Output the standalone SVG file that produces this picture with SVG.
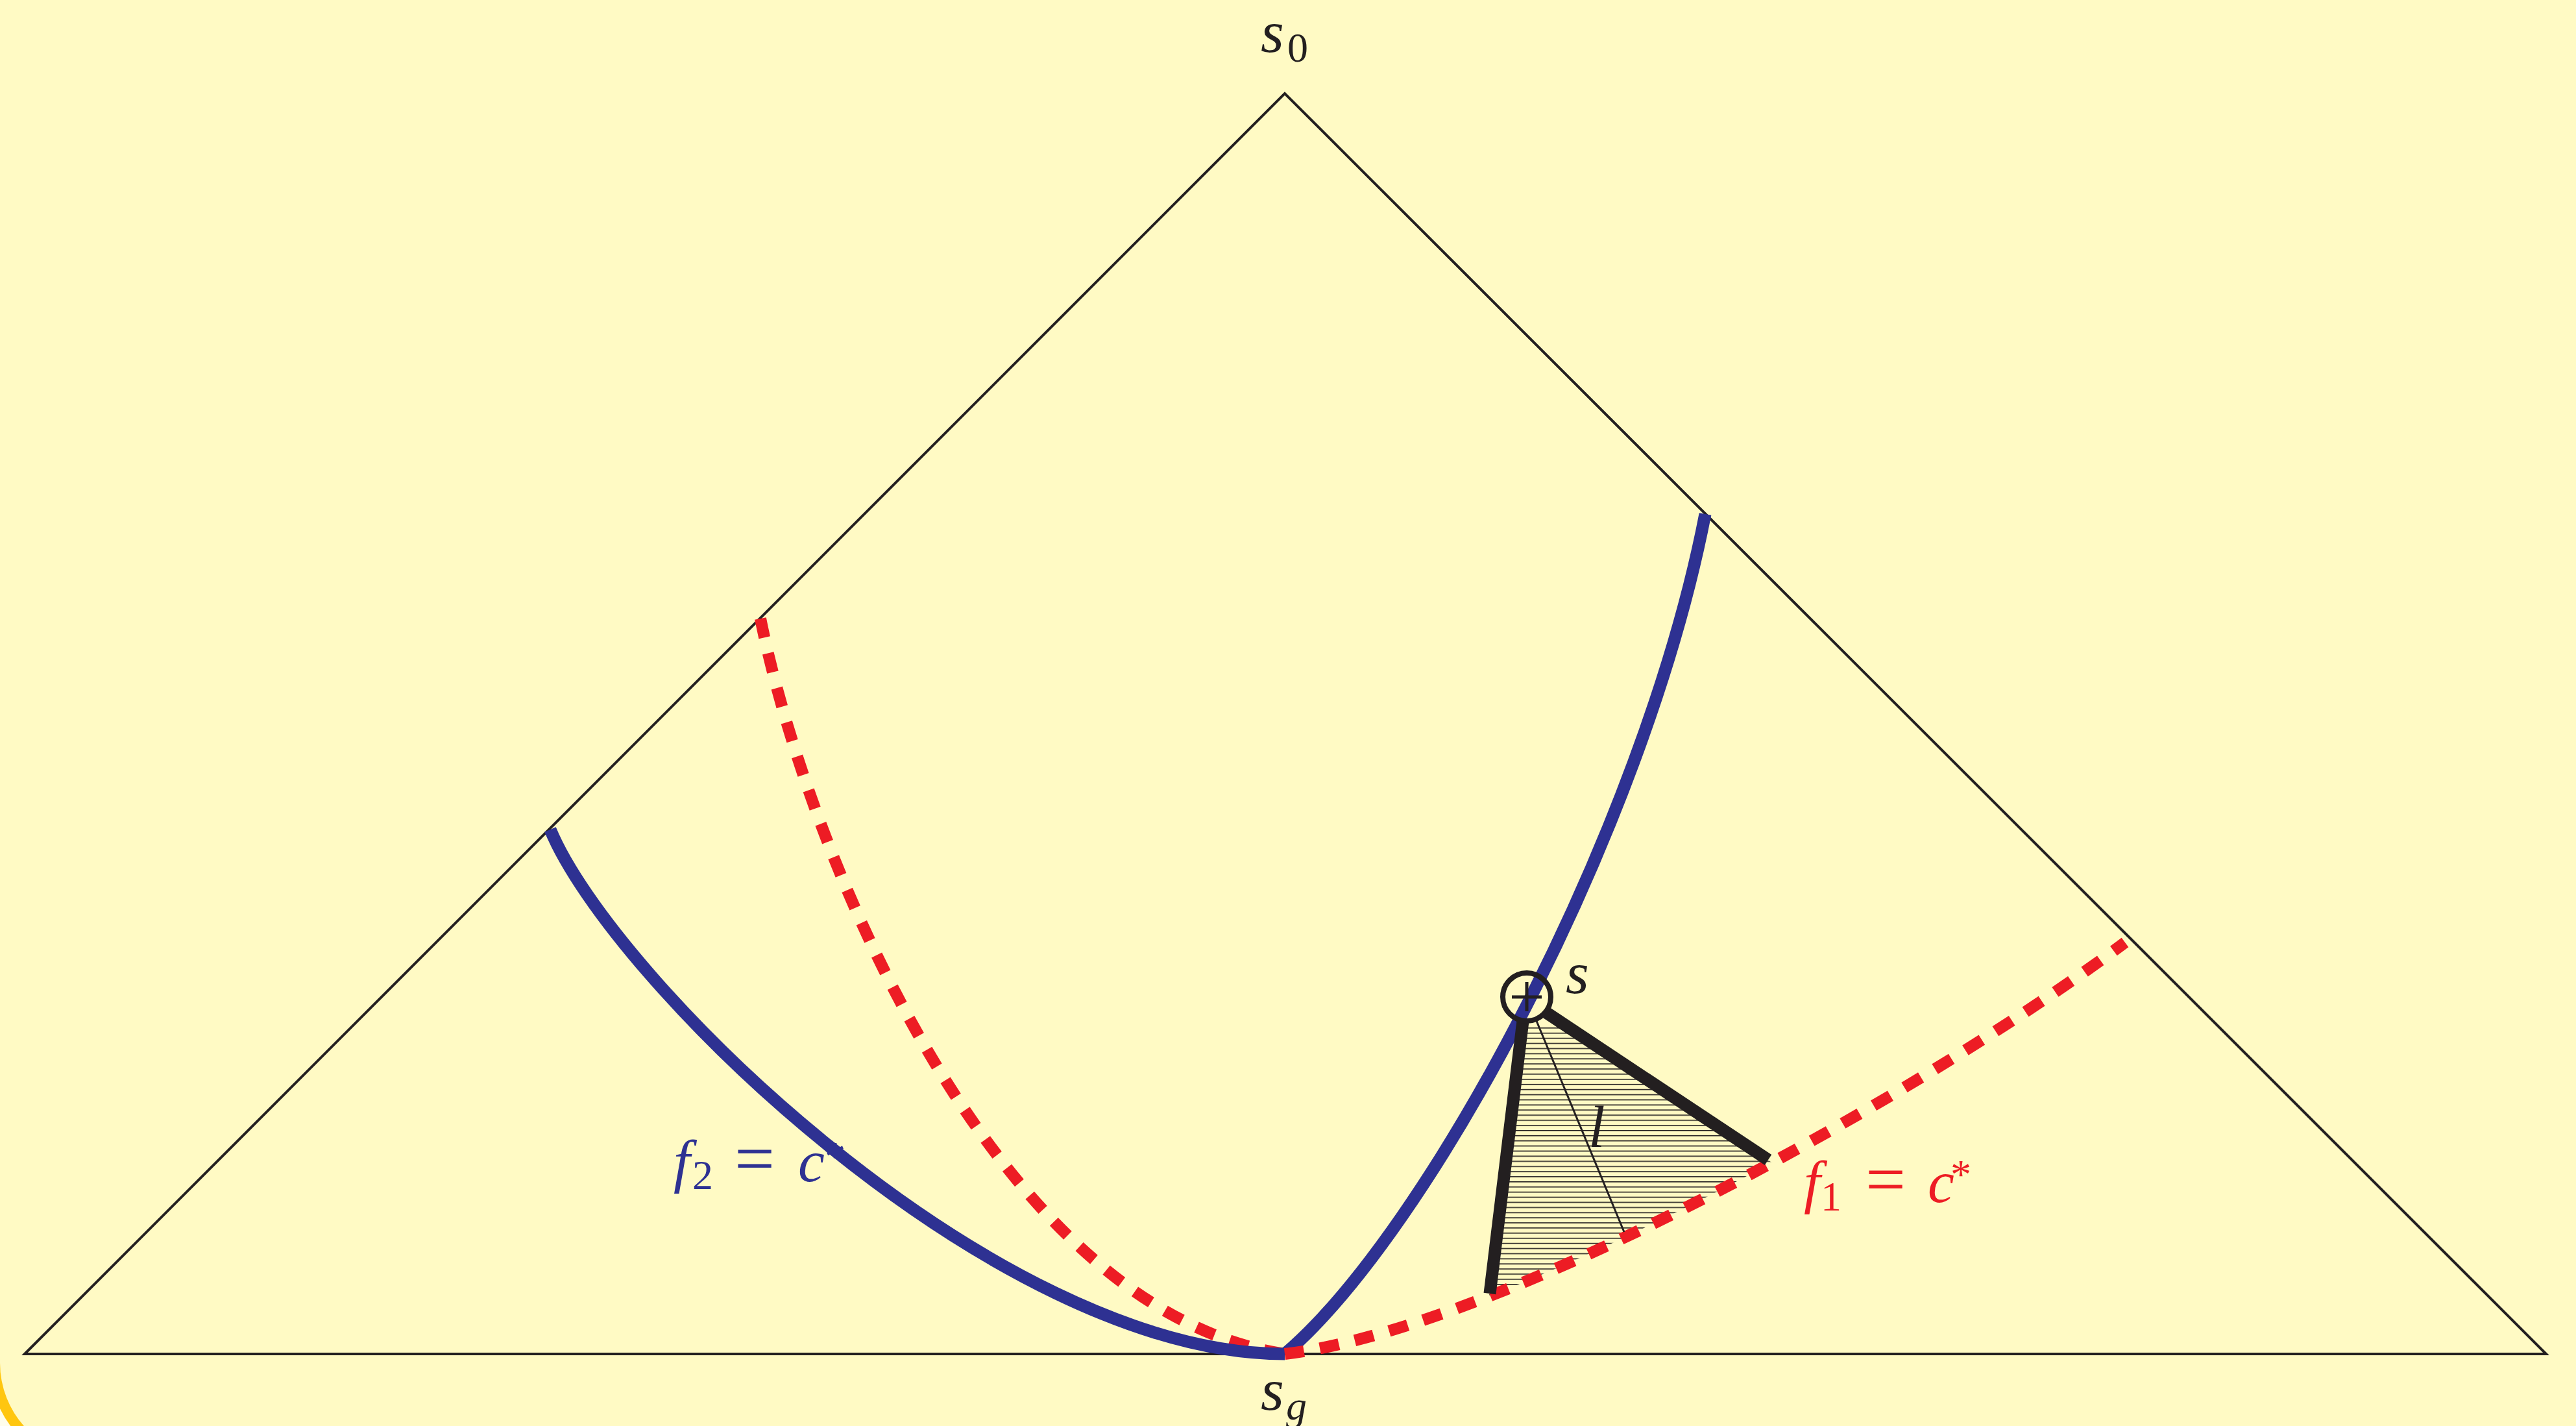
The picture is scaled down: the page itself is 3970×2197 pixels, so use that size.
<svg xmlns="http://www.w3.org/2000/svg" width="3970" height="2197" viewBox="0 0 3970 2197">
<style>
.math{font-family:"Liberation Serif","Times New Roman",serif;font-style:italic;font-size:92px}
.up{font-style:normal}
.sub{font-style:normal;font-size:64px}
.blue{stroke:#2E3192;stroke-width:19;fill:none}
.red{stroke:#ED1C24;stroke-width:18;fill:none;stroke-dasharray:30 25}
.thick{stroke:#231F20;stroke-width:19;fill:none}
</style>
<defs>
<pattern id="hatch" patternUnits="userSpaceOnUse" x="0" y="1583" width="20" height="7.9">
<rect x="0" y="0" width="20" height="1.6" fill="#231F20"/>
</pattern>
<clipPath id="above"><path d="M1980,2086 C2330,2044 2995,1662 3275,1452 L3275,1400 L1900,1400 L1900,2086 Z"/></clipPath>
<clipPath id="wedge"><polygon points="2353,1536 2800,1838 2287,2060"/></clipPath>
</defs>
<rect x="0" y="0" width="3970" height="2197" fill="#FFFDEB"/>
<rect id="frame" x="-8" y="-400" width="4400" height="2654" rx="154" ry="154" fill="#FFFAC4" stroke="#FFC60F" stroke-width="16"/>
<g id="triangle"><polygon points="38,2086 1980,144 3924,2086" fill="none" stroke="#231F20" stroke-width="4" stroke-linejoin="miter"/></g>
<g id="labels">
<text class="math" fill="#231F20"><tspan x="1943" y="80">s</tspan><tspan class="sub" x="1984" y="95">0</tspan></text>
<text class="math" fill="#231F20"><tspan x="1943" y="2172">s</tspan><tspan x="1982" y="2187" style="font-size:64px">g</tspan></text>
<text class="math" fill="#231F20" x="2413" y="1530">s</text>
<text class="math" fill="#231F20" x="2448" y="1767">l</text>
<text class="math" fill="#2E3192"><tspan x="1038" y="1820">f</tspan><tspan class="sub" x="1067" y="1832">2</tspan><tspan class="up" x="1132" y="1822" style="font-size:110px">=</tspan><tspan x="1230" y="1820">c</tspan><tspan class="sub" x="1271" y="1803">*</tspan></text>
<text class="math" fill="#ED1C24"><tspan x="2780" y="1852">f</tspan><tspan class="sub" x="2806" y="1865">1</tspan><tspan class="up" x="2875" y="1854" style="font-size:110px">=</tspan><tspan x="2971" y="1852">c</tspan><tspan class="sub" x="3006" y="1831">*</tspan></text>
</g>
<g id="connectors">
<path id="f1-left" class="red" d="M1172,953 C1242,1303 1530,2019 1980,2086"/>
<path id="f2-left" class="blue" d="M848,1278 C943,1508 1530,2086 1980,2086"/>
<path id="f2-right" class="blue" d="M1980,2086 C2200,1899 2533,1282 2628,792"/>
<g id="hatching" clip-path="url(#above)"><rect x="2280" y="1578" width="530" height="500" fill="url(#hatch)" clip-path="url(#wedge)"/></g>
<path id="f1-right" class="red" d="M1980,2086 C2330,2044 2995,1662 3275,1452"/>
<line class="thick" x1="2347" y1="1573" x2="2296" y2="1993"/>
<line class="thick" x1="2383" y1="1560" x2="2725" y2="1787"/>
<line id="l" x1="2368" y1="1573" x2="2503" y2="1898" stroke="#231F20" stroke-width="3"/>
</g>
<g id="s-node">
<circle cx="2353" cy="1536" r="37" fill="none" stroke="#231F20" stroke-width="8"/>
<path d="M2330,1536 H2376 M2353,1513 V1558" stroke="#231F20" stroke-width="5"/>
</g>
</svg>
